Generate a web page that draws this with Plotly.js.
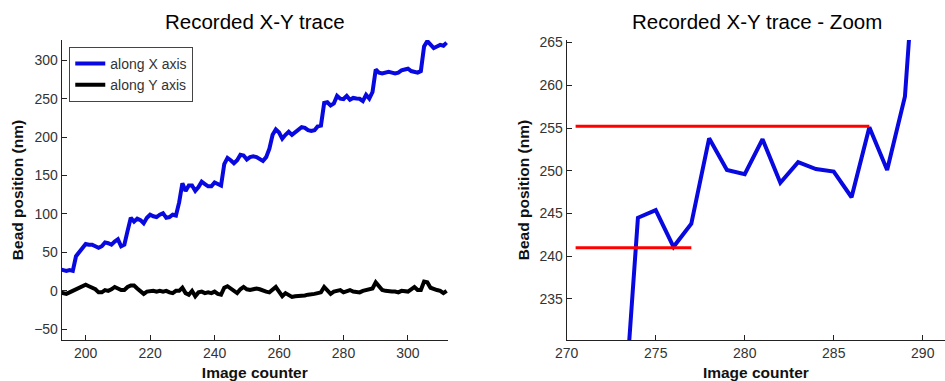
<!DOCTYPE html>
<html>
<head>
<meta charset="utf-8">
<script src="https://cdn.plot.ly/plotly-3.0.1.min.js"></script>
<style>html,body{margin:0;padding:0;background:#fff}#chart{width:945px;height:381px}</style>
</head>
<body>
<div id="chart"></div>
<script>
// Image counter (frame index)
const frames = [192,193,194,195,196,197,198,199,200,201,202,203,204,205,206,207,208,209,210,211,212,213,214,215,216,217,218,219,220,221,222,223,224,225,226,227,228,229,230,231,232,233,234,235,236,237,238,239,240,241,242,243,244,245,246,247,248,249,250,251,252,253,254,255,256,257,258,259,260,261,262,263,264,265,266,267,268,269,270,271,272,273,274,275,276,277,278,279,280,281,282,283,284,285,286,287,288,289,290,291,292,293,294,295,296,297,298,299,300,301,302,303,304,305,306,307,308,309,310,311,312];
// Bead position along X axis (nm)
const alongX = [28,27,26,27,26,45,50,55,61,60,60,58,56,58,63,62,60,64,67,58,60,78,95,90,94,92,88,95,99,97,96,99,101,95,96,99,98,115,140,130,137,137,130,135,142,139,136,136,141,139,137,165,173,170,166,170,177,176,171,174,175,174,172,169,174,185,203,210,206,198,203,207,203,206,209,213,212,209,208,209,214,215,244.5,245.4,241.1,243.8,253.8,250.1,249.6,253.7,248.6,251.0,250.2,249.9,246.9,255.1,250.1,258.7,288,284,283,284,285,284,283,284,287,288,289,286,285,284,286,318,325,320,316,318,320,319,323];
// Bead position along Y axis (nm)
const alongY = [-2,-3,-4,-2,0,3,5,7,8,6,4,2,-2,-2,1,0,2,5,3,1,1,5,7,7,3,-1,-4,-1,0,0,-1,0,-1,0,-2,-3,0,0,4,-3,-5,0,-7,-2,-1,-3,-2,-3,-1,-4,-5,4,6,3,-1,-3,2,5,2,1,2,3,2,0,-1,-2,2,5,-1,-7,-3,-5,-8,-7,-7,-6,-6,-5,-5,-4,-3,-2,5,1,-4,-1,0,1,-2,0,1,-1,-1,-2,0,1,2,3,11,6,1,0,-1,-1,-1,-2,0,-1,-1,2,5,1,1,12,11,4,2,1,0,-3,0];
// Plateau levels marked in the zoom panel
const levelLowX = [270.5, 277];
const levelLowY = [241, 241];
const levelHighX = [270.5, 287];
const levelHighY = [255.2, 255.2];

const seriesNames = ['along X axis', 'along Y axis'];
const titles = ['Recorded X-Y trace', 'Recorded X-Y trace - Zoom'];
const xTitle = 'Image counter';
const yTitle = 'Bead position (nm)';

const blue = '#0808e0';
const tickFont = {family: 'Liberation Sans, Arial, sans-serif', size: 14, color: '#333'};
const labFont = {family: 'Liberation Sans, Arial, sans-serif', size: 15.5, color: '#111', weight: 'bold'};

const data = [
  {x: frames, y: alongX, type: 'scatter', mode: 'lines', name: seriesNames[0],
   line: {color: blue, width: 4}, xaxis: 'x', yaxis: 'y'},
  {x: frames, y: alongY, type: 'scatter', mode: 'lines', name: seriesNames[1],
   line: {color: '#000', width: 4}, xaxis: 'x', yaxis: 'y'},
  {x: frames, y: alongX, type: 'scatter', mode: 'lines', showlegend: false,
   line: {color: blue, width: 4}, xaxis: 'x2', yaxis: 'y2'},
  {x: levelHighX, y: levelHighY, type: 'scatter', mode: 'lines', showlegend: false,
   line: {color: '#ff0000', width: 3}, xaxis: 'x2', yaxis: 'y2'},
  {x: levelLowX, y: levelLowY, type: 'scatter', mode: 'lines', showlegend: false,
   line: {color: '#ff0000', width: 3}, xaxis: 'x2', yaxis: 'y2'}
];

const axisCommon = {
  showline: true, linecolor: '#222', linewidth: 1, mirror: false,
  ticks: 'inside', ticklen: 5, tickcolor: '#222', tickwidth: 1,
  showgrid: false, zeroline: false, tickfont: tickFont, automargin: false
};

const layout = {
  width: 945, height: 381,
  margin: {l: 0, r: 0, t: 0, b: 0},
  paper_bgcolor: '#fff', plot_bgcolor: '#fff',
  showlegend: true,
  legend: {x: 0.0733, y: 0.877, xanchor: 'left', yanchor: 'top',
    bordercolor: '#444', borderwidth: 1, bgcolor: '#fff',
    font: {family: 'Liberation Sans, Arial, sans-serif', size: 14, color: '#333'}},
  xaxis: Object.assign({}, axisCommon, {domain: [0.0653, 0.474], range: [192.56, 312.4],
    tickvals: [200, 220, 240, 260, 280, 300],
    title: {text: xTitle, font: labFont, standoff: 8}, anchor: 'y'}),
  yaxis: Object.assign({}, axisCommon, {domain: [0.1076, 0.895], range: [-64, 326.4],
    tickvals: [-50, 0, 50, 100, 150, 200, 250, 300],
    title: {text: yTitle, font: labFont, standoff: 6}, anchor: 'x'}),
  xaxis2: Object.assign({}, axisCommon, {domain: [0.5997, 1], range: [270, 291.25],
    tickvals: [270, 275, 280, 285, 290],
    title: {text: xTitle, font: labFont, standoff: 8}, anchor: 'y2'}),
  yaxis2: Object.assign({}, axisCommon, {domain: [0.1076, 0.895], range: [230.2, 265.3],
    tickvals: [235, 240, 245, 250, 255, 260, 265],
    title: {text: yTitle, font: labFont, standoff: 6}, anchor: 'x2'}),
  annotations: [
    {text: titles[0], xref: 'paper', yref: 'paper', x: (0.0653 + 0.474) / 2, y: 1 - 21 / 381,
     xanchor: 'center', yanchor: 'middle', showarrow: false,
     font: {family: 'Liberation Sans, Arial, sans-serif', size: 20.5, color: '#000'}},
    {text: titles[1], xref: 'paper', yref: 'paper', x: 757 / 945, y: 1 - 21 / 381,
     xanchor: 'center', yanchor: 'middle', showarrow: false,
     font: {family: 'Liberation Sans, Arial, sans-serif', size: 20.5, color: '#000'}}
  ]
};

Plotly.newPlot('chart', data, layout, {displayModeBar: false, staticPlot: true});
</script>
</body>
</html>
